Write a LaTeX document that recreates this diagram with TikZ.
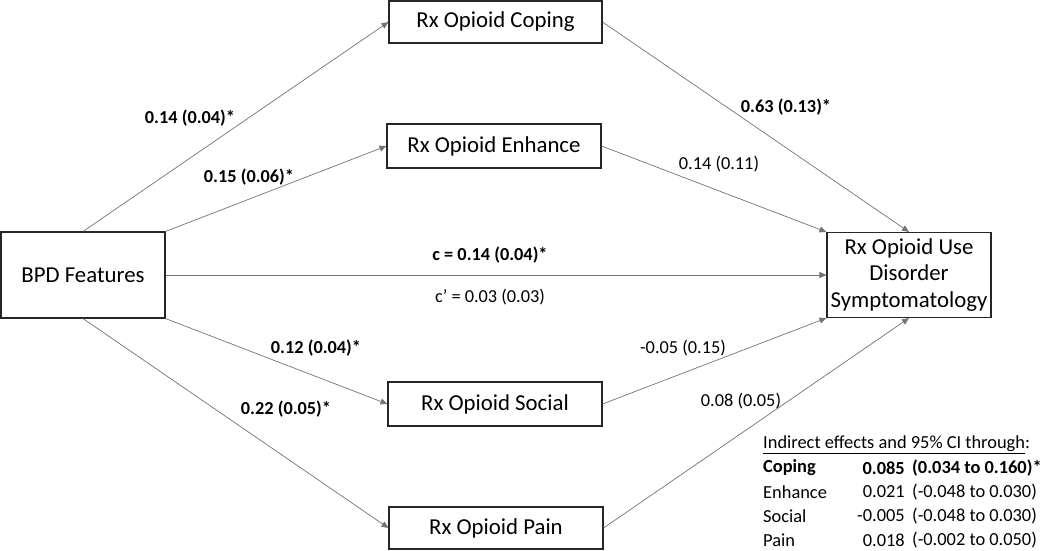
\documentclass[tikz,border=0pt]{standalone}
\usepackage{fontspec}
\setmainfont{Carlito}
\usetikzlibrary{arrows.meta}
\begin{document}
\begin{tikzpicture}[x=1pt,y=-1pt,
  box/.style={draw=black!85, line width=1.1pt, inner sep=0pt, align=center,
    font=\fontsize{22.8}{26.5}\selectfont},
  conn/.style={draw=black!55, line width=0.7pt, -{Triangle[length=7pt,width=6pt]}},
  lab/.style={inner sep=0pt, font=\fontsize{18.3}{21}\selectfont},
  blab/.style={inner sep=0pt, font=\fontsize{18.3}{21}\selectfont\bfseries},
  tab/.style={inner sep=0pt, font=\fontsize{18.4}{21}\selectfont},
  btab/.style={inner sep=0pt, font=\fontsize{18.4}{21}\selectfont\bfseries}]
\useasboundingbox (0,0) rectangle (1050,550);

% boxes
\node[box, minimum width=164pt, minimum height=86pt] (bpd) at (83,275) {BPD Features};
\node[box, minimum width=213pt, minimum height=42pt] (cop) at (495.5,22) {Rx Opioid Coping};
\node[box, minimum width=214pt, minimum height=44pt] (enh) at (494,146) {Rx Opioid Enhance};
\node[box, minimum width=214pt, minimum height=44pt] (soc) at (495,404) {Rx Opioid Social};
\node[box, minimum width=214pt, minimum height=42pt] (pain) at (496,528) {Rx Opioid Pain};
\node[box, minimum width=164pt, minimum height=85pt] (out) at (909,275) {Rx Opioid Use\\Disorder\\Symptomatology};

% connectors
\draw[conn] (bpd.north) -- (cop.west);
\draw[conn] (bpd.north east) -- (enh.west);
\draw[conn] (bpd.east) -- (out.west);
\draw[conn] (bpd.south east) -- (soc.west);
\draw[conn] (bpd.south) -- (pain.west);
\draw[conn] (cop.east) -- (out.north);
\draw[conn] (enh.east) -- (out.north west);
\draw[conn] (soc.east) -- (out.south west);
\draw[conn] (pain.east) -- (out.south);

% path labels
\node[blab] (l1) at (190,118) {0.14 (0.04)*};
\node[blab] (l2) at (249,177) {0.15 (0.06)*};
\node[blab] (l3) at (490,255) {c = 0.14 (0.04)*};
\node[lab]  (l4) at (490,297) {c’ = 0.03 (0.03)};
\node[blab] (l5) at (316,348) {0.12 (0.04)*};
\node[blab] (l6) at (286,409) {0.22 (0.05)*};
\node[blab] (l7) at (786,107) {0.63 (0.13)*};
\node[lab]  (l8) at (719,164) {0.14 (0.11)};
\node[lab]  (l9) at (683,348) {-0.05 (0.15)};
\node[lab]  (l10) at (741,401) {0.08 (0.05)};

% indirect effects table
\node[tab, anchor=west] (th) at (763,445) {\underline{Indirect effects and 95\% CI through}:};
\node[btab, anchor=west] (r1a) at (763,468) {Coping};
\node[btab, anchor=east] (r1b) at (905,468) {0.085};
\node[btab, anchor=west] (r1c) at (912,468) {(0.034 to 0.160)*};
\node[tab, anchor=west] (r2a) at (763,492) {Enhance};
\node[tab, anchor=east] (r2b) at (905,492) {0.021};
\node[tab, anchor=west] (r2c) at (912,492) {(-0.048 to 0.030)};
\node[tab, anchor=west] (r3a) at (763,516) {Social};
\node[tab, anchor=east] (r3b) at (905,516) {-0.005};
\node[tab, anchor=west] (r3c) at (912,516) {(-0.048 to 0.030)};
\node[tab, anchor=west] (r4a) at (763,540) {Pain};
\node[tab, anchor=east] (r4b) at (905,540) {0.018};
\node[tab, anchor=west] (r4c) at (912,540) {(-0.002 to 0.050)};
\end{tikzpicture}
\end{document}
